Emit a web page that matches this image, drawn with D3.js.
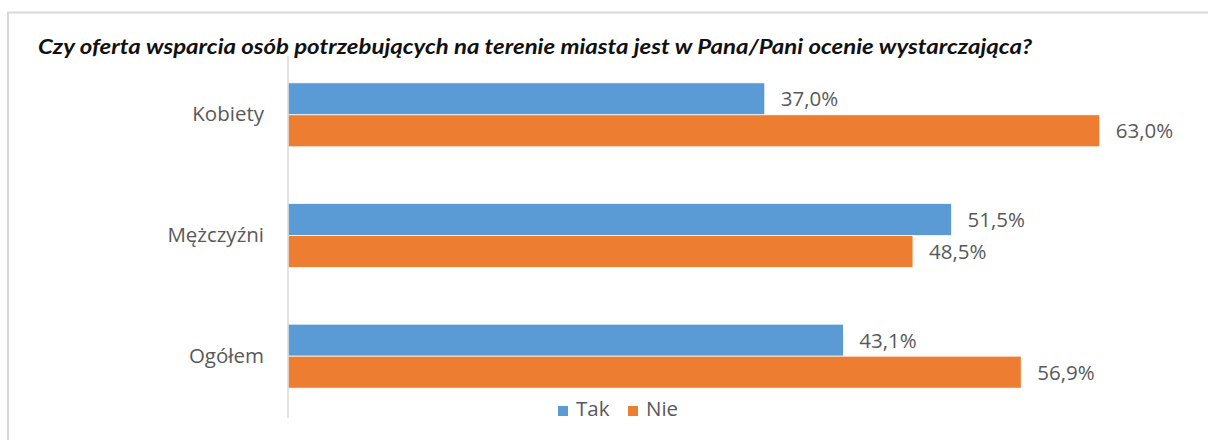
<!DOCTYPE html>
<html>
<head>
<meta charset="utf-8">
<script src="https://cdn.jsdelivr.net/npm/d3@7"></script>
<style>
  html, body { margin: 0; padding: 0; background: #fff; }
  svg { display: block; }
</style>
</head>
<body>
<svg id="chart" width="1208" height="440"></svg>
<script>
// Survey answers by group (share of respondents)
const title = "Czy oferta  wsparcia osób  potrzebujących  na terenie  miasta jest  w Pana/Pani  ocenie  wystarczająca?";
const categories = ["Kobiety", "Mężczyźni", "Ogółem"];
const seriesNames = ["Tak", "Nie"];
const takValues = [0.370, 0.515, 0.431];
const nieValues = [0.630, 0.485, 0.569];
const colors = ["#5B9BD5", "#ED7D31"];

const rows = categories.map((c, i) => ({ category: c, values: [takValues[i], nieValues[i]] }));

const svg = d3.select("#chart");
const font = "'Open Sans', 'Noto Sans', sans-serif";
const labelSize = 20.5;

// Outer chart frame
svg.append("path")
  .attr("d", "M8,441 L8,12.5 L1209,12.5")
  .attr("fill", "none")
  .attr("stroke", "#d9d9d9")
  .attr("stroke-width", 2);

// Title
svg.append("text")
  .attr("x", 38)
  .attr("y", 54)
  .attr("font-family", "Lato, 'Open Sans', sans-serif")
  .attr("font-style", "italic")
  .attr("font-weight", "bold")
  .attr("font-size", 21)
  .attr("fill", "#111")
  .attr("textLength", 994)
  .attr("lengthAdjust", "spacingAndGlyphs")
  .text(title);

// Scales
const x = d3.scaleLinear().domain([0, 0.7]).range([288, 1190]);
const y = d3.scaleBand().domain(categories).range([54.5, 416.5]).paddingInner(0.47).paddingOuter(0.235);
const ySub = d3.scaleBand().domain(seriesNames).range([0, y.bandwidth()]);

const fmt = v => d3.format(".1f")(v * 100).replace(".", ",") + "%";

// Bars
const groups = svg.append("g").selectAll("g")
  .data(rows)
  .join("g")
  .attr("transform", d => `translate(0,${y(d.category)})`);

groups.selectAll("rect")
  .data(d => d.values.map((v, i) => ({ v, name: seriesNames[i], i })))
  .join("rect")
  .attr("x", x(0))
  .attr("y", d => ySub(d.name))
  .attr("width", d => x(d.v) - x(0))
  .attr("height", ySub.bandwidth())
  .attr("fill", d => colors[d.i])
  .attr("stroke", "#fff")
  .attr("stroke-width", 0.75);

// Value labels
groups.selectAll("text")
  .data(d => d.values.map((v, i) => ({ v, name: seriesNames[i], i })))
  .join("text")
  .attr("x", d => x(d.v) + 16)
  .attr("y", d => ySub(d.name) + ySub.bandwidth() / 2)
  .attr("dy", "0.36em")
  .attr("font-family", font)
  .attr("font-size", labelSize)
  .attr("fill", "#595959")
  .text(d => fmt(d.v));

// Category axis
const axis = svg.append("g")
  .attr("transform", `translate(${x(0)},0)`)
  .call(d3.axisLeft(y).tickSize(0).tickPadding(24));
axis.select(".domain")
  .attr("stroke", "#d9d9d9")
  .attr("stroke-width", 1.5)
  .attr("d", "M0,56V418");
axis.selectAll(".tick text")
  .attr("font-family", font)
  .attr("font-size", labelSize)
  .attr("fill", "#595959");

// Legend
const legend = svg.append("g").attr("transform", "translate(558,409)");
const legendItems = [
  { name: seriesNames[0], color: colors[0], dx: 0 },
  { name: seriesNames[1], color: colors[1], dx: 70 }
];
const li = legend.selectAll("g").data(legendItems).join("g")
  .attr("transform", d => `translate(${d.dx},0)`);
li.append("rect")
  .attr("x", 0).attr("y", -3)
  .attr("width", 10).attr("height", 10)
  .attr("fill", d => d.color);
li.append("text")
  .attr("x", 18)
  .attr("y", 0)
  .attr("dy", "0.36em")
  .attr("font-family", font)
  .attr("font-size", labelSize)
  .attr("fill", "#595959")
  .text(d => d.name);
</script>
</body>
</html>
